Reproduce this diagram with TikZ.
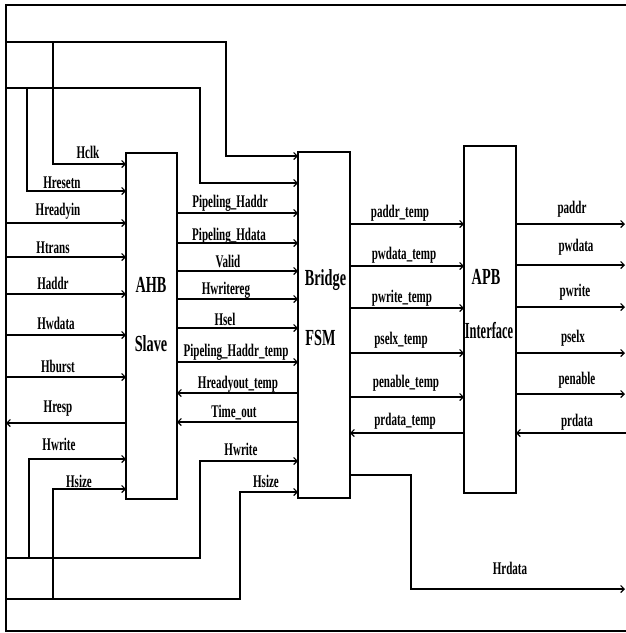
\documentclass[tikz,border=0pt]{standalone}
\usepackage{fontspec}
\usetikzlibrary{arrows.meta}
\newfontfamily\lblfont[FakeStretch=0.62]{Liberation Serif}
\newfontfamily\narrowfont[FakeStretch=0.54]{Liberation Serif}
\begin{document}
\begin{tikzpicture}[x=1pt,y=-1pt,
  wire/.style={line width=1.2pt},
  sig/.style={wire,-{Straight Barb[length=3.5pt,width=7pt]}},
  blk/.style={draw,line width=1.4pt,inner sep=0pt,outer sep=0pt},
  lbl/.style={font=\lblfont\bfseries\fontsize{17.8}{18}\selectfont,inner sep=0pt,anchor=base},
  big/.style={font=\lblfont\bfseries\fontsize{23}{24}\selectfont,inner sep=0pt,anchor=base},
  bignarrow/.style={font=\narrowfont\bfseries\fontsize{23}{24}\selectfont,inner sep=0pt,anchor=base}]
\useasboundingbox (0,0) rectangle (626,633);

% blocks
\node[blk,minimum width=51pt,minimum height=346pt] (ahb) at (151.5,326) {};
\node[blk,minimum width=52pt,minimum height=346pt] (fsm) at (324,325) {};
\node[blk,minimum width=52pt,minimum height=347pt] (apb) at (490,319.5) {};

\node[big] (t1) at (151,292) {AHB};
\node[big] (t2) at (151,351) {Slave};
\node[big] (t3) at (325.5,285) {Bridge};
\node[big] (t4) at (320.5,345) {FSM};
\node[big] (t5) at (486,284) {APB};
\node[bignarrow] (t6) at (489,338) {Interface};

% outer frame
\coordinate (ftr) at (626,5);
\coordinate (fbr) at (626,631);
\draw[wire] (ftr) -- (6,5) -- (6,631) -- (fbr);

% top feed wires
\draw[sig] (6,42) -- (226,42) -- (226,156) -- (fsm.west |- 0,156);
\draw[sig] (53,42) -- (53,164) -- (ahb.west |- 0,164);
\draw[sig] (6,88) -- (200,88) -- (200,183) -- (fsm.west |- 0,183);
\draw[sig] (27,88) -- (27,191) -- (ahb.west |- 0,191);

% AHB inputs
\foreach \yy in {223,257,294,335,377}
  \draw[sig] (6,\yy) -- (ahb.west |- 0,\yy);
\draw[sig] (ahb.west |- 0,423) -- (6,423);
\draw[sig] (29,558) -- (29,459) -- (ahb.west |- 0,459);
\draw[sig] (53,599) -- (53,489) -- (ahb.west |- 0,489);
\draw[sig] (6,558) -- (200,558) -- (200,461) -- (fsm.west |- 0,461);
\draw[sig] (6,599) -- (240,599) -- (240,492) -- (fsm.west |- 0,492);

% AHB -> FSM
\foreach \yy in {213,243,271,299,328,362}
  \draw[sig] (ahb.east |- 0,\yy) -- (fsm.west |- 0,\yy);
\foreach \yy in {393,422}
  \draw[sig] (fsm.west |- 0,\yy) -- (ahb.east |- 0,\yy);

% FSM -> APB
\foreach \yy in {224,266,308,353,397}
  \draw[sig] (fsm.east |- 0,\yy) -- (apb.west |- 0,\yy);
\draw[sig] (apb.west |- 0,433) -- (fsm.east |- 0,433);

% APB outputs
\foreach \yy in {224,265,307,353,394}
  \draw[sig] (apb.east |- 0,\yy) -- (625,\yy);
\draw[sig] (626,433) -- (apb.east |- 0,433);

% Hrdata
\draw[sig] (fsm.east |- 0,475) -- (411,475) -- (411,589) -- (625,589);

% labels left
\node[lbl] (l1) at (88,158) {Hclk};
\node[lbl] (l2) at (62,188) {Hresetn};
\node[lbl] (l3) at (58,215) {Hreadyin};
\node[lbl] (l4) at (53,253) {Htrans};
\node[lbl] (l5) at (53,289) {Haddr};
\node[lbl] (l6) at (56,329) {Hwdata};
\node[lbl] (l7) at (58,372) {Hburst};
\node[lbl] (l8) at (58,412) {Hresp};
\node[lbl] (l9) at (59,450) {Hwrite};
\node[lbl] (l10) at (79,487) {Hsize};

% labels middle
\node[lbl] (m1) at (230,207) {Pipeling\_Haddr};
\node[lbl] (m2) at (229,240) {Pipeling\_Hdata};
\node[lbl] (m3) at (228,267) {Valid};
\node[lbl] (m4) at (226,294) {Hwritereg};
\node[lbl] (m5) at (225,325) {Hsel};
\node[lbl] (m6) at (236,356) {Pipeling\_Haddr\_temp};
\node[lbl] (m7) at (238,388) {Hreadyout\_temp};
\node[lbl] (m8) at (234,417) {Time\_out};
\node[lbl] (m9) at (241,455) {Hwrite};
\node[lbl] (m10) at (266,487) {Hsize};

% labels FSM -> APB
\node[lbl] (p1) at (400,217) {paddr\_temp};
\node[lbl] (p2) at (404,259) {pwdata\_temp};
\node[lbl] (p3) at (402,302) {pwrite\_temp};
\node[lbl] (p4) at (401,344) {pselx\_temp};
\node[lbl] (p5) at (406,387) {penable\_temp};
\node[lbl] (p6) at (405,425) {prdata\_temp};

% labels right
\node[lbl] (r1) at (572,213) {paddr};
\node[lbl] (r2) at (576,251) {pwdata};
\node[lbl] (r3) at (575,296) {pwrite};
\node[lbl] (r4) at (573,342) {pselx};
\node[lbl] (r5) at (577,384) {penable};
\node[lbl] (r6) at (577,426) {prdata};
\node[lbl] (r7) at (510,574) {Hrdata};
\end{tikzpicture}
\end{document}
